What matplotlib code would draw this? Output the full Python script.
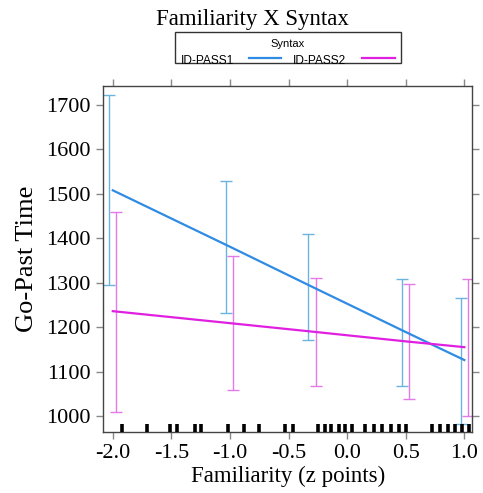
import matplotlib
matplotlib.use("Agg")
import matplotlib.pyplot as plt
from matplotlib.patches import Rectangle
from matplotlib.lines import Line2D

# fitted effect of familiarity for each syntax level
x_pts = [-2.0, -1.0, -0.3, 0.5, 1.0]
pass1_fit = [1508, 1381, 1291, 1189, 1126]
pass1_lo = [1294, 1231, 1171, 1067, 981]
pass1_hi = [1722, 1528, 1409, 1309, 1265]
pass2_fit = [1236, 1209, 1190, 1168, 1155]
pass2_lo = [1009, 1059, 1068, 1038, 1000]
pass2_hi = [1459, 1360, 1311, 1297, 1308]

# observed familiarity values (rug)
rug_x = [-1.92, -1.71, -1.51, -1.45, -1.30, -1.25, -1.02, -0.88, -0.75,
         -0.53, -0.46, -0.25, -0.19, -0.14, -0.07, -0.02, 0.04, 0.15,
         0.23, 0.30, 0.37, 0.44, 0.50, 0.72, 0.79, 0.86, 0.92, 0.98, 1.04]

x_ticks = [-2.0, -1.5, -1.0, -0.5, 0.0, 0.5, 1.0]
y_ticks = [1000, 1100, 1200, 1300, 1400, 1500, 1600, 1700]

blue_line, blue_bar = "#2f8be3", "#6cb4e0"
mag_line, mag_bar = "#e020e0", "#e27ae8"
dodge = 0.03

serif = ["Liberation Serif", "DejaVu Serif"]
sans = ["Liberation Sans", "DejaVu Sans"]

fig = plt.figure(figsize=(4.83, 4.93), dpi=100)
W, H = 483, 493
ax = fig.add_axes([103.3 / W, 1 - 431.7 / H, (472.3 - 103.3) / W, (431.7 - 86) / H])

ax.plot(x_pts, pass1_fit, color=blue_line, lw=1.6, zorder=3)
ax.plot(x_pts, pass2_fit, color=mag_line, lw=1.6, zorder=3)

def bars(xs, fit, lo, hi, shift, col):
    xx = [x + shift for x in xs]
    err = [[f - l for f, l in zip(fit, lo)], [h - f for f, h in zip(fit, hi)]]
    ax.errorbar(xx, fit, yerr=err, fmt="none", ecolor=col, elinewidth=1.0,
                capsize=4.5, capthick=1.0, zorder=2)

bars(x_pts, pass1_fit, pass1_lo, pass1_hi, -dodge, blue_bar)
bars(x_pts, pass2_fit, pass2_lo, pass2_hi, dodge, mag_bar)

ax.vlines(rug_x, 0, 0.022, transform=ax.get_xaxis_transform(), color="black",
          lw=2.6, zorder=4)

ax.set_xlim(-2.081, 1.068)
ax.set_ylim(964.7, 1742.8)
ax.set_xticks(x_ticks)
ax.set_xticklabels(["%.1f" % v for v in x_ticks])
ax.set_yticks(y_ticks)
ax.tick_params(direction="out", length=5, width=1, color="#888888",
               top=True, right=True, labelsize=16, pad=4)
for lab in ax.get_xticklabels() + ax.get_yticklabels():
    lab.set_family(serif)
for sp in ax.spines.values():
    sp.set_color("#444444")
    sp.set_linewidth(1.0)

ax.set_xlabel("Familiarity (z points)", family=serif, fontsize=16.5, labelpad=2)
ax.set_ylabel("Go-Past Time", family=serif, fontsize=19, labelpad=6)

fig.text(252.5 / W, 1 - 20 / H, "Familiarity X Syntax", family=serif,
         fontsize=16.5, ha="center", va="center")

# key above the panel
fig.patches.append(Rectangle((175 / W, 1 - 63.3 / H), 225.7 / W, 31 / H,
                             transform=fig.transFigure, fill=False,
                             edgecolor="#333333", lw=1.0))
fig.text(287.5 / W, 1 - 44 / H, "Syntax", family=sans, fontsize=8,
         ha="center", va="center")
fig.text(180.7 / W, 1 - 64 / H, "ID-PASS1", family=sans, fontsize=8.6,
         ha="left", va="baseline")
fig.text(293 / W, 1 - 64 / H, "ID-PASS2", family=sans, fontsize=8.6,
         ha="left", va="baseline")
fig.lines.append(Line2D([249 / W, 281 / W], [1 - 58.3 / H] * 2,
                        transform=fig.transFigure, color=blue_line, lw=1.6))
fig.lines.append(Line2D([362 / W, 395 / W], [1 - 58.3 / H] * 2,
                        transform=fig.transFigure, color=mag_line, lw=1.6))

fig.savefig("out.png", dpi=100)
